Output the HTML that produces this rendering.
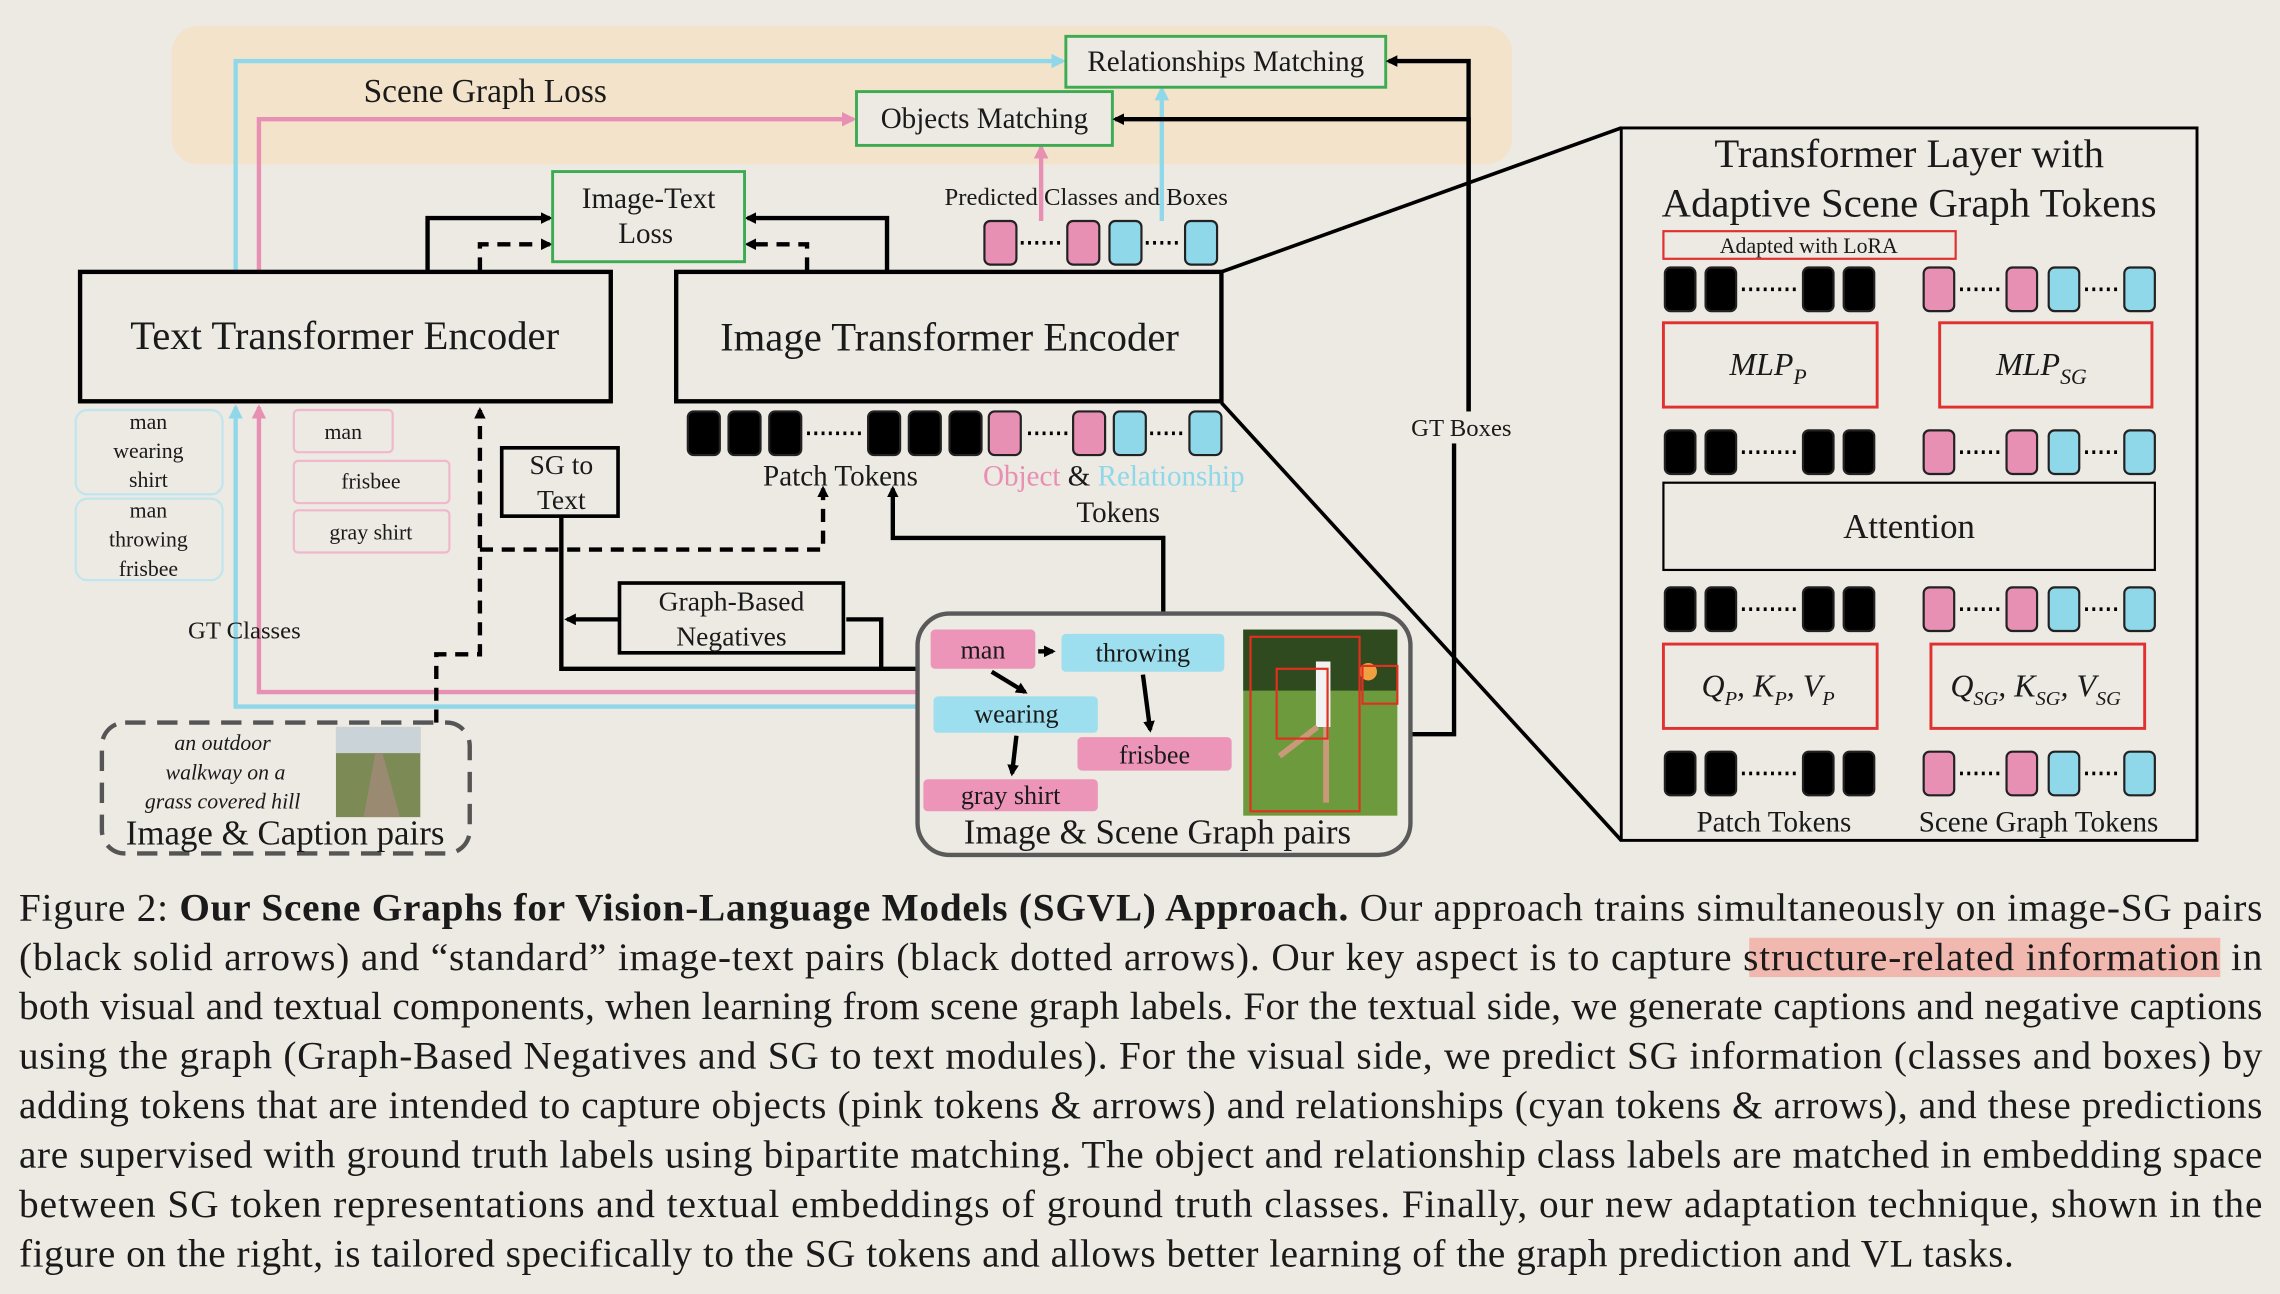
<!DOCTYPE html>
<html><head><meta charset="utf-8"><style>
html,body{margin:0;padding:0;background:#ede9e3;}
svg{display:block;}
text{font-family:"Liberation Serif",serif;fill:#1a1a1a;}
</style></head><body>
<svg width="2280" height="1294" viewBox="0 0 1568 890" xmlns="http://www.w3.org/2000/svg">
<defs>
<marker id="ab" markerWidth="8" markerHeight="8" refX="6" refY="4" orient="auto" markerUnits="userSpaceOnUse"><path d="M0,0 L8,4 L0,8 z" fill="#000"/></marker>
<marker id="ap" markerWidth="10" markerHeight="10" refX="8" refY="5" orient="auto" markerUnits="userSpaceOnUse"><path d="M0,0 L10,5 L0,10 z" fill="#e88fb4"/></marker>
<marker id="ac" markerWidth="10" markerHeight="10" refX="8" refY="5" orient="auto" markerUnits="userSpaceOnUse"><path d="M0,0 L10,5 L0,10 z" fill="#8fd8ea"/></marker>
</defs>
<rect width="1568" height="890" fill="#ede9e3"/>
<rect x="118" y="18" width="922" height="95" rx="18" fill="#f4e3cb"/>
<text x="250" y="70" font-size="23">Scene Graph Loss</text>

<g fill="none" stroke-width="3">
<path d="M162,186 V42 H731" stroke="#8fd8ea" marker-end="url(#ac)"/>
<path d="M178,186 V82 H587" stroke="#e88fb4" marker-end="url(#ap)"/>
<path d="M716,152 V101" stroke="#e88fb4" marker-end="url(#ap)"/>
<path d="M799,152 V61" stroke="#8fd8ea" marker-end="url(#ac)"/>
<path d="M630,476 H178 V280" stroke="#e88fb4" marker-end="url(#ap)"/>
<path d="M630,486 H162 V280" stroke="#8fd8ea" marker-end="url(#ac)"/>
</g>

<rect x="733" y="25" width="220" height="35" fill="#ede9e3" stroke="#3cab52" stroke-width="2"/>
<text x="843" y="49" font-size="20" text-anchor="middle">Relationships Matching</text>
<rect x="589" y="63" width="176" height="37" fill="#ede9e3" stroke="#3cab52" stroke-width="2"/>
<text x="677" y="88" font-size="20" text-anchor="middle">Objects Matching</text>

<g fill="none" stroke="#000" stroke-width="3">
<path d="M1010,290 V42 H955" marker-end="url(#ab)"/>
<path d="M1010,300 V82 H767" marker-end="url(#ab)"/>
<path d="M294,186 V150 H378" marker-end="url(#ab)"/>
<path d="M610,186 V150 H514" marker-end="url(#ab)"/>
<path d="M330,186 V168 H378" stroke-dasharray="9,6" marker-end="url(#ab)"/>
<path d="M555,186 V168 H514" stroke-dasharray="9,6" marker-end="url(#ab)"/>
<path d="M300,497 V450 H330 V282" stroke-dasharray="9,6" marker-end="url(#ab)"/>
<path d="M330,378 H566 V336" stroke-dasharray="9,6" marker-end="url(#ab)"/>
<path d="M800,422 V370 H614 V336" marker-end="url(#ab)"/>
<path d="M630,460 H386 V356"/>
<path d="M606,460 V426 H582"/>
<path d="M426,426 H390" marker-end="url(#ab)"/>
<path d="M970,505 H1000 V300"/>
</g>
<rect x="965" y="283" width="80" height="22" fill="#ede9e3"/>
<text x="1005" y="300" font-size="17" text-anchor="middle">GT Boxes</text>

<rect x="380" y="118" width="132" height="62" fill="#ede9e3" stroke="#3cab52" stroke-width="2"/>
<text x="446" y="143" font-size="20" text-anchor="middle">Image-Text</text>
<text x="444" y="167" font-size="20" text-anchor="middle">Loss</text>

<rect x="55" y="187" width="365" height="89" fill="#ede9e3" stroke="#000" stroke-width="3"/>
<text x="237" y="240" font-size="28" text-anchor="middle">Text Transformer Encoder</text>
<rect x="465" y="187" width="375" height="89" fill="#ede9e3" stroke="#000" stroke-width="3"/>
<text x="653" y="241" font-size="28" text-anchor="middle">Image Transformer Encoder</text>

<text x="747" y="141" font-size="17" text-anchor="middle">Predicted Classes and Boxes</text>
<g stroke="#222" stroke-width="1.5">
<rect x="677" y="152" width="22" height="30" rx="4" fill="#e88fb4"/>
<rect x="734" y="152" width="22" height="30" rx="4" fill="#e88fb4"/>
<rect x="763" y="152" width="22" height="30" rx="4" fill="#8fd8ea"/>
<rect x="815" y="152" width="22" height="30" rx="4" fill="#8fd8ea"/>
</g>
<g stroke="#000" stroke-width="2.5" stroke-dasharray="2,3"><path d="M702,167 H731 M788,167 H812"/></g>

<g stroke="#222" stroke-width="1.5">
<rect x="473" y="283" width="22" height="30" rx="4" fill="#000"/>
<rect x="501" y="283" width="22" height="30" rx="4" fill="#000"/>
<rect x="529" y="283" width="22" height="30" rx="4" fill="#000"/>
<rect x="597" y="283" width="22" height="30" rx="4" fill="#000"/>
<rect x="625" y="283" width="22" height="30" rx="4" fill="#000"/>
<rect x="653" y="283" width="22" height="30" rx="4" fill="#000"/>
<rect x="680" y="283" width="22" height="30" rx="4" fill="#e88fb4"/>
<rect x="738" y="283" width="22" height="30" rx="4" fill="#e88fb4"/>
<rect x="766" y="283" width="22" height="30" rx="4" fill="#8fd8ea"/>
<rect x="818" y="283" width="22" height="30" rx="4" fill="#8fd8ea"/>
</g>
<g stroke="#000" stroke-width="2.5" stroke-dasharray="2,3"><path d="M555,298 H594 M707,298 H735 M791,298 H815"/></g>
<text x="578" y="334" font-size="20" text-anchor="middle">Patch Tokens</text>
<text x="676" y="334" font-size="20"><tspan fill="#e88fb4">Object</tspan> &amp; <tspan fill="#8fd8ea">Relationship</tspan></text>
<text x="769" y="359" font-size="20" text-anchor="middle">Tokens</text>

<g fill="none" stroke="#bfe6ee" stroke-width="1.5">
<rect x="52" y="282" width="101" height="58" rx="8"/>
<rect x="52" y="343" width="101" height="56" rx="8"/>
</g>
<g font-size="15" text-anchor="middle">
<text x="102" y="295">man</text><text x="102" y="315">wearing</text><text x="102" y="335">shirt</text>
<text x="102" y="356">man</text><text x="102" y="376">throwing</text><text x="102" y="396">frisbee</text>
</g>
<g fill="none" stroke="#f0b8cd" stroke-width="1.5">
<rect x="202" y="282" width="68" height="29" rx="3"/>
<rect x="202" y="317" width="107" height="29" rx="3"/>
<rect x="202" y="351" width="107" height="29" rx="3"/>
</g>
<g font-size="15" text-anchor="middle"><text x="236" y="302">man</text><text x="255" y="336">frisbee</text><text x="255" y="371">gray shirt</text></g>
<text x="168" y="439" font-size="17" text-anchor="middle">GT Classes</text>

<rect x="345" y="308" width="80" height="47" fill="#ede9e3" stroke="#000" stroke-width="2.5"/>
<text x="386" y="326" font-size="19" text-anchor="middle">SG to</text>
<text x="386" y="350" font-size="19" text-anchor="middle">Text</text>
<rect x="426" y="401" width="154" height="48" fill="#ede9e3" stroke="#000" stroke-width="2.5"/>
<text x="503" y="420" font-size="19" text-anchor="middle">Graph-Based</text>
<text x="503" y="444" font-size="19" text-anchor="middle">Negatives</text>

<rect x="70" y="497" width="253" height="90" rx="16" fill="none" stroke="#555" stroke-width="3" stroke-dasharray="14,8"/>
<g font-size="15" font-style="italic" text-anchor="middle"><text x="153" y="516">an outdoor</text><text x="155" y="536">walkway on a</text><text x="153" y="556">grass covered hill</text></g>
<rect x="231" y="500" width="58" height="62" fill="#7c8a55"/>
<rect x="231" y="500" width="58" height="18" fill="#c9d3d8"/>
<path d="M250,562 L258,518 L263,518 L275,562 z" fill="#9a8a72"/>
<text x="196" y="581" font-size="24" text-anchor="middle">Image &amp; Caption pairs</text>

<rect x="631" y="422" width="339" height="166" rx="22" fill="#ede9e3" stroke="#5a5a5a" stroke-width="3"/>
<g>
<rect x="640" y="433" width="72" height="27" rx="3" fill="#ec95b8"/><text x="676" y="453" font-size="18" text-anchor="middle">man</text>
<rect x="730" y="436" width="112" height="26" rx="3" fill="#9ddfee"/><text x="786" y="455" font-size="18" text-anchor="middle">throwing</text>
<rect x="642" y="479" width="113" height="25" rx="3" fill="#9ddfee"/><text x="699" y="497" font-size="18" text-anchor="middle">wearing</text>
<rect x="741" y="507" width="106" height="23" rx="3" fill="#ec95b8"/><text x="794" y="525" font-size="18" text-anchor="middle">frisbee</text>
<rect x="635" y="536" width="120" height="22" rx="3" fill="#ec95b8"/><text x="695" y="553" font-size="18" text-anchor="middle">gray shirt</text>
<g stroke="#000" stroke-width="3" fill="none">
<path d="M714,448 H724" marker-end="url(#ab)"/>
<path d="M682,462 L705,476" marker-end="url(#ab)"/>
<path d="M786,464 L791,502" marker-end="url(#ab)"/>
<path d="M699,506 L696,532" marker-end="url(#ab)"/>
</g>
</g>
<g>
<rect x="855" y="433" width="106" height="128" fill="#6c9a3c"/>
<rect x="855" y="433" width="106" height="42" fill="#2f4a1e"/>
<path d="M905,455 h10 v45 h-10 z" fill="#f2f2f2"/>
<path d="M906,500 L880,520 M912,500 L912,552" stroke="#c89a7a" stroke-width="4"/>
<circle cx="941" cy="462" r="6" fill="#f0a040"/>
<g fill="none" stroke="#e03020" stroke-width="1.5">
<rect x="860" y="438" width="75" height="120"/><rect x="878" y="460" width="35" height="48"/><rect x="937" y="458" width="24" height="26"/>
</g>
</g>
<text x="796" y="580" font-size="24" text-anchor="middle">Image &amp; Scene Graph pairs</text>

<path d="M840,187 L1115,88 M840,277 L1115,578" stroke="#000" stroke-width="2.5"/>

<rect x="1115" y="88" width="396" height="490" fill="#ede9e3" stroke="#000" stroke-width="2"/>
<text x="1313" y="115" font-size="28" text-anchor="middle">Transformer Layer with</text>
<text x="1313" y="149" font-size="28" text-anchor="middle">Adaptive Scene Graph Tokens</text>
<rect x="1144" y="159" width="201" height="19" fill="none" stroke="#e03030" stroke-width="1.5"/>
<text x="1244" y="174" font-size="15" text-anchor="middle">Adapted with LoRA</text>

<g id="trow" stroke="#222" stroke-width="1.5">
<rect x="1145" y="184" width="21" height="30" rx="4" fill="#000"/>
<rect x="1173" y="184" width="21" height="30" rx="4" fill="#000"/>
<rect x="1240" y="184" width="21" height="30" rx="4" fill="#000"/>
<rect x="1268" y="184" width="21" height="30" rx="4" fill="#000"/>
<rect x="1323" y="184" width="21" height="30" rx="4" fill="#e88fb4"/>
<rect x="1380" y="184" width="21" height="30" rx="4" fill="#e88fb4"/>
<rect x="1409" y="184" width="21" height="30" rx="4" fill="#8fd8ea"/>
<rect x="1461" y="184" width="21" height="30" rx="4" fill="#8fd8ea"/>
<path d="M1198,199 H1237 M1348,199 H1377 M1434,199 H1458" stroke="#000" stroke-width="2.5" stroke-dasharray="2,3"/>
</g>
<use href="#trow" y="112"/>
<use href="#trow" y="220"/>
<use href="#trow" y="333"/>

<rect x="1144" y="222" width="147" height="58" fill="none" stroke="#e03030" stroke-width="2"/>
<text x="1216" y="258" font-size="22" font-style="italic" text-anchor="middle">MLP<tspan font-size="15" dy="6">P</tspan></text>
<rect x="1334" y="222" width="146" height="58" fill="none" stroke="#e03030" stroke-width="2"/>
<text x="1404" y="258" font-size="22" font-style="italic" text-anchor="middle">MLP<tspan font-size="15" dy="6">SG</tspan></text>
<rect x="1144" y="332" width="338" height="60" fill="none" stroke="#000" stroke-width="1.5"/>
<text x="1313" y="370" font-size="24" text-anchor="middle">Attention</text>
<rect x="1144" y="443" width="147" height="58" fill="none" stroke="#e03030" stroke-width="2"/>
<text x="1216" y="479" font-size="22" font-style="italic" text-anchor="middle">Q<tspan font-size="14" dy="6">P</tspan><tspan dy="-6">, K</tspan><tspan font-size="14" dy="6">P</tspan><tspan dy="-6">, V</tspan><tspan font-size="14" dy="6">P</tspan></text>
<rect x="1328" y="443" width="147" height="58" fill="none" stroke="#e03030" stroke-width="2"/>
<text x="1400" y="479" font-size="22" font-style="italic" text-anchor="middle">Q<tspan font-size="14" dy="6">SG</tspan><tspan dy="-6">, K</tspan><tspan font-size="14" dy="6">SG</tspan><tspan dy="-6">, V</tspan><tspan font-size="14" dy="6">SG</tspan></text>
<text x="1220" y="572" font-size="20" text-anchor="middle">Patch Tokens</text>
<text x="1402" y="572" font-size="20" text-anchor="middle">Scene Graph Tokens</text>

<rect x="1203" y="645" width="324" height="27" fill="#f0b8ae"/>
<g font-size="27">
<text x="13" y="633" textLength="1543" lengthAdjust="spacing">Figure 2: <tspan font-weight="bold">Our Scene Graphs for Vision-Language Models (SGVL) Approach.</tspan> Our approach trains simultaneously on image-SG pairs</text>
<text x="13" y="667" textLength="1543" lengthAdjust="spacing">(black solid arrows) and “standard” image-text pairs (black dotted arrows). Our key aspect is to capture structure-related information in</text>
<text x="13" y="701" textLength="1543" lengthAdjust="spacing">both visual and textual components, when learning from scene graph labels. For the textual side, we generate captions and negative captions</text>
<text x="13" y="735" textLength="1543" lengthAdjust="spacing">using the graph (Graph-Based Negatives and SG to text modules). For the visual side, we predict SG information (classes and boxes) by</text>
<text x="13" y="769" textLength="1543" lengthAdjust="spacing">adding tokens that are intended to capture objects (pink tokens &amp; arrows) and relationships (cyan tokens &amp; arrows), and these predictions</text>
<text x="13" y="803" textLength="1543" lengthAdjust="spacing">are supervised with ground truth labels using bipartite matching. The object and relationship class labels are matched in embedding space</text>
<text x="13" y="837" textLength="1543" lengthAdjust="spacing">between SG token representations and textual embeddings of ground truth classes. Finally, our new adaptation technique, shown in the</text>
<text x="13" y="871" textLength="1372" lengthAdjust="spacing">figure on the right, is tailored specifically to the SG tokens and allows better learning of the graph prediction and VL tasks.</text>
</g>
</svg>
</body></html>
